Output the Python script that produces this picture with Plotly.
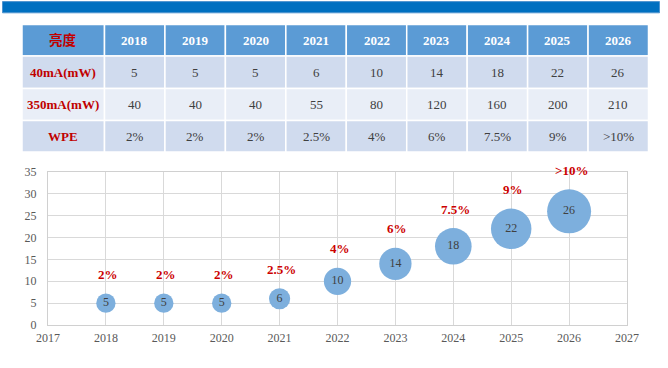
import math
import plotly.graph_objects as go

# ---------------- data ----------------
years = [2018, 2019, 2020, 2021, 2022, 2023, 2024, 2025, 2026]
header_label = "亮度"
row_labels = ["40mA(mW)", "350mA(mW)", "WPE"]
power_40mA = [5, 5, 5, 6, 10, 14, 18, 22, 26]
power_350mA = [40, 40, 40, 55, 80, 120, 160, 200, 210]
wpe_labels = ["2%", "2%", "2%", "2.5%", "4%", "6%", "7.5%", "9%", ">10%"]
x_ticks = list(range(2017, 2028))
y_ticks = [0, 5, 10, 15, 20, 25, 30, 35]

# ---------------- figure geometry ----------------
W, H = 668, 368
SERIF = "Liberation Serif"
CJK = "Liberation Serif, Noto Sans CJK SC"


def px(x):
    return x / W


def py(y):
    return 1 - y / H


SIZEREF = 0.02685

fig = go.Figure()

fig.add_trace(go.Scatter(
    x=years,
    y=power_40mA,
    mode="markers+text",
    text=[str(v) for v in power_40mA],
    textposition="middle center",
    textfont=dict(family=SERIF, size=12, color="#404040"),
    marker=dict(
        size=power_40mA,
        sizemode="area",
        sizeref=SIZEREF,
        color="#7DAFDD",
        line=dict(width=0),
        opacity=1,
    ),
    hoverinfo="skip",
    showlegend=False,
    cliponaxis=False,
))

annotations = []
shapes = []

# WPE labels above bubbles
for yr, v, lab in zip(years, power_40mA, wpe_labels):
    r = math.sqrt(v / (2 * SIZEREF))
    annotations.append(dict(
        x=yr, y=v, xref="x", yref="y", text=f"<b>{lab}</b>", showarrow=False,
        yshift=r + 19, xshift=2,
        font=dict(family=SERIF, size=13, color="#CC0000"),
    ))

# ---------------- top banner ----------------
shapes.append(dict(type="rect", xref="paper", yref="paper",
                   x0=px(2.5), x1=px(659.5), y0=py(12.8), y1=py(1.6),
                   fillcolor="#0070C0", line=dict(color="#4F94CF", width=1), layer="below"))

# ---------------- table ----------------
tbl_left, first_right, tbl_right = 22, 104.5, 648.5
col_w = (tbl_right - first_right) / len(years)
col_edges = [tbl_left, first_right] + [first_right + col_w * (i + 1) for i in range(len(years))]
row_edges = [24.5, 56, 88.5, 120.5, 152]
row_fill = ["#5B9BD5", "#D0DBEE", "#E9EEF7", "#D0DBEE"]

for ri in range(4):
    for ci in range(len(col_edges) - 1):
        shapes.append(dict(type="rect", xref="paper", yref="paper",
                           x0=px(col_edges[ci]), x1=px(col_edges[ci + 1]),
                           y0=py(row_edges[ri + 1]), y1=py(row_edges[ri]),
                           fillcolor=row_fill[ri], line=dict(color="white", width=1.5),
                           layer="below"))

rows_text = [
    [str(y) for y in years],
    [str(v) for v in power_40mA],
    [str(v) for v in power_350mA],
    wpe_labels,
]
first_col_text = [header_label] + row_labels

for ri in range(4):
    yc = (row_edges[ri] + row_edges[ri + 1]) / 2
    xc0 = (col_edges[0] + col_edges[1]) / 2
    annotations.append(dict(
        x=px(xc0), y=py(yc), xref="paper", yref="paper", showarrow=False,
        text=f"<b>{first_col_text[ri]}</b>",
        font=dict(family=CJK if ri == 0 else SERIF, size=13.5 if ri == 0 else 13, color="#C00000"),
        xanchor="center", yanchor="middle",
    ))
    for ci, t in enumerate(rows_text[ri]):
        xc = (col_edges[ci + 1] + col_edges[ci + 2]) / 2
        if ri == 0:
            txt = f"<b>{t}</b>"
            fnt = dict(family=SERIF, size=13, color="white")
        else:
            txt = t
            fnt = dict(family=SERIF, size=13, color="#404040")
        annotations.append(dict(
            x=px(xc), y=py(yc), xref="paper", yref="paper", showarrow=False,
            text=txt, font=fnt, xanchor="center", yanchor="middle",
        ))

fig.update_layout(
    template="none",
    width=W, height=H,
    autosize=False,
    margin=dict(l=0, r=0, t=0, b=0, pad=0, autoexpand=False),
    paper_bgcolor="white",
    plot_bgcolor="white",
    font=dict(family=SERIF),
    showlegend=False,
    shapes=shapes,
    annotations=annotations,
    xaxis=dict(
        domain=[px(48), px(627)],
        range=[2017, 2027],
        tickvals=x_ticks,
        ticktext=[str(t) for t in x_ticks],
        showgrid=True, gridcolor="#D9D9D9", gridwidth=1,
        showline=True, linecolor="#D0D0D0", linewidth=1, mirror=True,
        zeroline=False, ticks="",
        tickfont=dict(family=SERIF, size=12, color="#595959"),
        ticklabelstandoff=2,
        automargin=False,
        fixedrange=True,
    ),
    yaxis=dict(
        domain=[py(325), py(172)],
        range=[0, 35],
        tickvals=y_ticks,
        showgrid=True, gridcolor="#D9D9D9", gridwidth=1,
        showline=True, linecolor="#D0D0D0", linewidth=1, mirror=True,
        zeroline=False, ticks="",
        tickfont=dict(family=SERIF, size=12, color="#595959"),
        ticklabelstandoff=8,
        automargin=False,
        fixedrange=True,
    ),
)

fig.write_html("out.html", config={"displayModeBar": False, "staticPlot": True},
               post_script="document.body.style.margin='0';")
